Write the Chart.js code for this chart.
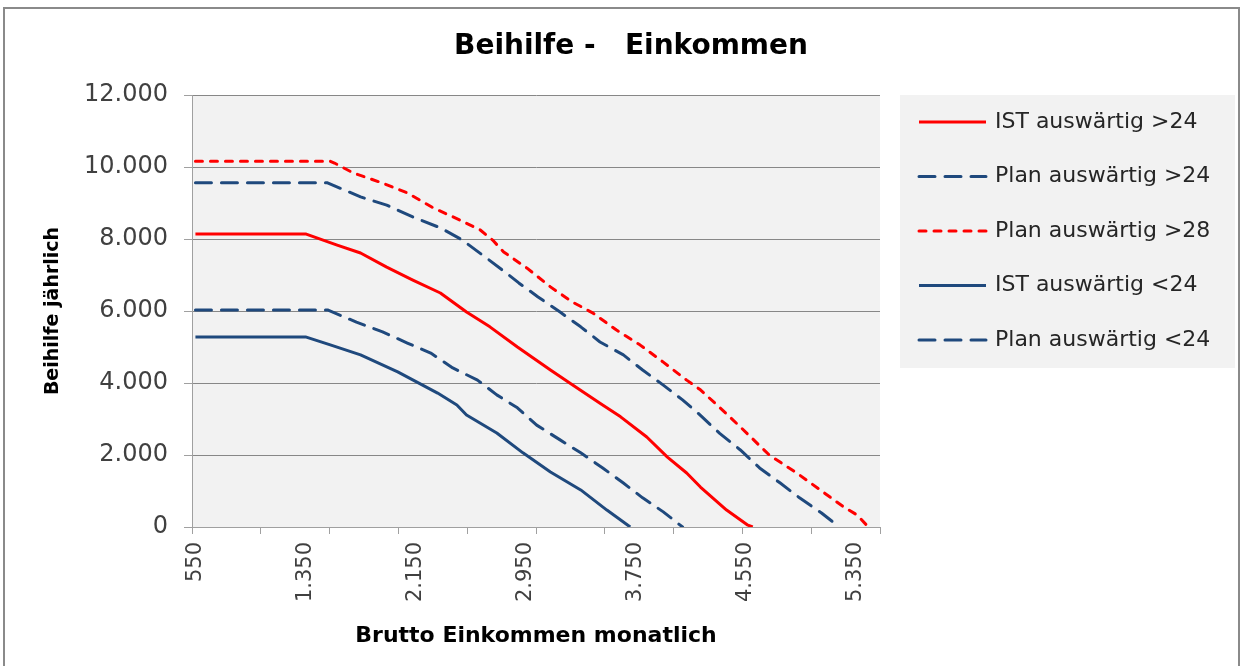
<!DOCTYPE html>
<html lang="de">
<head>
<meta charset="utf-8">
<title>Beihilfe - Einkommen</title>
<script src="https://cdn.jsdelivr.net/npm/chart.js@4.4.1/dist/chart.umd.min.js"></script>
<style>
  html, body { margin: 0; padding: 0; background: #fff; overflow: hidden; }
  #wrap { position: relative; width: 1246px; height: 666px; }
  #frame { position: absolute; left: 3px; top: 7px; width: 1237px; height: 700px;
           border: 2px solid #8a8a8a; box-sizing: border-box; pointer-events: none; }
</style>
</head>
<body>
<div id="wrap">
  <canvas id="chart"></canvas>
  <div id="frame"></div>
</div>
<script>
// Daten
const istOver24X  = [550, 1350, 1580, 1750, 1940, 2130, 2330, 2520, 2690, 2890, 3130, 3270, 3490, 3640, 3830, 3980, 4120, 4220, 4410, 4560, 4600];
const istOver24Y  = [8140, 8140, 7830, 7610, 7220, 6860, 6500, 5970, 5560, 5000, 4360, 4000, 3440, 3060, 2500, 1940, 1500, 1110, 470, 60, 0];

const planOver24X = [550, 1510, 1750, 1940, 2130, 2330, 2490, 2690, 2800, 2900, 3040, 3200, 3350, 3490, 3660, 3800, 3950, 4090, 4200, 4360, 4510, 4650, 4800, 4940, 5100, 5230];
const planOver24Y = [9560, 9560, 9170, 8940, 8610, 8310, 7970, 7400, 7080, 6780, 6390, 5970, 5560, 5140, 4780, 4360, 3940, 3530, 3170, 2600, 2140, 1640, 1220, 810, 390, 0];

const planOver28X = [550, 1530, 1560, 1700, 1890, 2090, 2280, 2470, 2620, 2710, 2790, 2960, 3130, 3290, 3440, 3610, 3780, 3950, 4120, 4220, 4340, 4510, 4720, 4920, 5090, 5260, 5360, 5440];
const planOver28Y = [10160, 10160, 10110, 9830, 9580, 9280, 8860, 8530, 8250, 7970, 7640, 7190, 6670, 6250, 5940, 5470, 5060, 4580, 4080, 3810, 3390, 2780, 2000, 1500, 1030, 560, 330, 0];

const istUnder24X  = [550, 1350, 1530, 1750, 2020, 2310, 2450, 2520, 2740, 2930, 3130, 3350, 3540, 3710];
const istUnder24Y  = [5280, 5280, 5060, 4780, 4310, 3720, 3390, 3110, 2610, 2060, 1530, 1030, 470, 0];

const planUnder24X = [550, 1510, 1720, 1910, 2090, 2260, 2420, 2600, 2740, 2890, 3030, 3200, 3350, 3510, 3660, 3800, 3950, 4090];
const planUnder24Y = [6030, 6030, 5690, 5420, 5110, 4830, 4420, 4080, 3670, 3310, 2830, 2420, 2060, 1640, 1220, 810, 420, 0];

// Achsenbeschriftung
const xLabelTicks = [550, 1350, 2150, 2950, 3750, 4550, 5350];
const xTickMarks  = [525, 1025, 1525, 2025, 2525, 3025, 3525, 4025, 4525, 5025, 5525];

const RED = '#ff0000';
const BLUE = '#1f497d';
const FONT = '"DejaVu Sans", sans-serif';

// Zahlen im deutschen Format (12.000)
function fmt(v) {
  return String(v).replace(/\B(?=(\d{3})+(?!\d))/g, '.');
}

function toPoints(xs, ys) {
  return xs.map((x, i) => ({ x: x, y: ys[i] }));
}

const labelSet = new Set(xLabelTicks);
const markSet = new Set(xTickMarks);

// Hintergrund der Zeichenfläche
const plotBackground = {
  id: 'plotBackground',
  beforeDraw(chart) {
    const { ctx, chartArea } = chart;
    ctx.save();
    ctx.fillStyle = '#f2f2f2';
    ctx.fillRect(chartArea.left, chartArea.top, chartArea.right - chartArea.left, chartArea.bottom - chartArea.top);
    ctx.restore();
  }
};

// Legende im Excel-Stil (graues Feld rechts)
const legendBox = {
  id: 'legendBox',
  afterDraw(chart) {
    const { ctx, chartArea } = chart;
    const x = chartArea.right + 20;
    const y = chartArea.top;
    ctx.save();
    ctx.fillStyle = '#f2f2f2';
    ctx.fillRect(x, y, 335, 273);
    ctx.font = '22px ' + FONT;
    ctx.textBaseline = 'middle';
    chart.data.datasets.forEach((ds, i) => {
      const ly = y + 27 + i * 54.5;
      ctx.beginPath();
      ctx.strokeStyle = ds.borderColor;
      ctx.lineWidth = 3;
      ctx.lineCap = ds.borderCapStyle;
      ctx.setLineDash(ds.borderDash);
      ctx.moveTo(x + 19, ly);
      ctx.lineTo(x + 86, ly);
      ctx.stroke();
      ctx.setLineDash([]);
      ctx.fillStyle = '#262626';
      ctx.fillText(ds.label, x + 95, ly);
    });
    ctx.restore();
  }
};

function makeDataset(label, xs, ys, color, dash) {
  return {
    label: label,
    data: toPoints(xs, ys),
    borderColor: color,
    backgroundColor: color,
    borderWidth: 3,
    borderDash: dash,
    borderCapStyle: dash.length ? 'round' : 'butt',
    borderJoinStyle: 'round',
    pointRadius: 0,
    tension: 0,
    fill: false,
    yAxisID: 'y'
  };
}

window.addEventListener('DOMContentLoaded', () => {
  const ctx = document.getElementById('chart').getContext('2d');

  window.beihilfeChart = new Chart(ctx, {
    type: 'line',
    data: {
      datasets: [
        makeDataset('IST auswärtig >24', istOver24X, istOver24Y, RED, []),
        makeDataset('Plan auswärtig >24', planOver24X, planOver24Y, BLUE, [16, 10]),
        makeDataset('Plan auswärtig >28', planOver28X, planOver28Y, RED, [7, 8]),
        makeDataset('IST auswärtig <24', istUnder24X, istUnder24Y, BLUE, []),
        makeDataset('Plan auswärtig <24', planUnder24X, planUnder24Y, BLUE, [16, 10])
      ]
    },
    options: {
      responsive: true,
      maintainAspectRatio: false,
      animation: false,
      layout: { padding: { left: 16, right: 0, top: 0, bottom: 0 } },
      plugins: {
        legend: { display: false },
        tooltip: { enabled: false },
        title: {
          display: true,
          text: 'Beihilfe -   Einkommen',
          color: '#000',
          font: { family: FONT, size: 28, weight: 'bold' },
          padding: { top: 30, bottom: 31.4 }
        }
      },
      scales: {
        x: {
          type: 'linear',
          min: 525,
          max: 5525,
          afterBuildTicks(scale) {
            scale.ticks = xTickMarks.concat(xLabelTicks)
              .sort((a, b) => a - b)
              .map(v => ({ value: v }));
          },
          afterFit(scale) { scale.height = 139; },
          ticks: {
            autoSkip: false,
            minRotation: 90,
            maxRotation: 90,
            padding: 8,
            color: '#404040',
            font: { family: FONT, size: 21 },
            callback: value => labelSet.has(value) ? fmt(value) : ''
          },
          grid: {
            drawOnChartArea: false,
            drawTicks: true,
            tickLength: 7,
            color: c => markSet.has(c.tick.value) ? '#a0a0a0' : 'rgba(0,0,0,0)',
            tickColor: c => markSet.has(c.tick.value) ? '#a0a0a0' : 'rgba(0,0,0,0)'
          },
          border: { color: '#a0a0a0', width: 1 },
          title: {
            display: true,
            text: 'Brutto Einkommen monatlich',
            color: '#000',
            font: { family: FONT, size: 22, weight: 'bold' },
            padding: { top: 0, bottom: 17 }
          }
        },
        y: {
          position: 'left',
          min: 0,
          max: 12000,
          afterFit(scale) { scale.width = 176; },
          ticks: {
            stepSize: 2000,
            padding: 16,
            color: '#404040',
            font: { family: FONT, size: 24 },
            callback: value => fmt(value)
          },
          grid: {
            color: '#878787',
            lineWidth: 1,
            tickLength: 8,
            tickColor: '#a0a0a0'
          },
          border: { color: '#a0a0a0', width: 1 },
          title: {
            display: true,
            text: 'Beihilfe jährlich',
            color: '#000',
            font: { family: FONT, size: 19, weight: 'bold' },
            padding: { top: 26, bottom: 0 }
          }
        },
        // Platzhalter rechts für die Legende
        yLegend: {
          position: 'right',
          afterFit(scale) { scale.width = 366; },
          ticks: { display: false },
          grid: { display: false },
          border: { display: false }
        }
      }
    },
    plugins: [plotBackground, legendBox]
  });
});
</script>
</body>
</html>
